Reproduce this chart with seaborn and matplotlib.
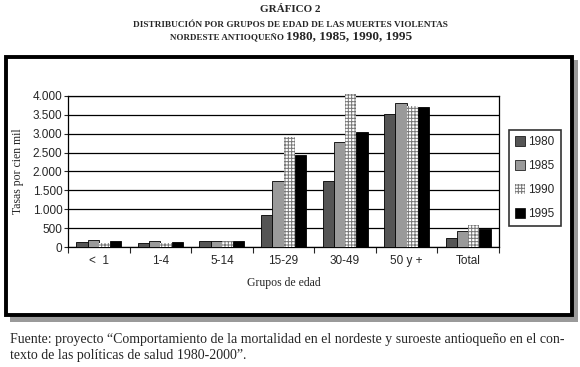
import pandas as pd
import seaborn as sns
import matplotlib.pyplot as plt
from matplotlib.patches import Rectangle, Patch

# values
groups = ['<  1', '1-4', '5-14', '15-29', '30-49', '50 y +', 'Total']
years = ['1980', '1985', '1990', '1995']
v1980 = [135, 95, 150, 860, 1750, 3515, 245]
v1985 = [195, 150, 170, 1740, 2790, 3805, 415]
v1990 = [105, 100, 150, 2915, 4060, 3735, 575]
v1995 = [150, 125, 150, 2430, 3050, 3720, 485]
yticks = [0, 500, 1000, 1500, 2000, 2500, 3000, 3500, 4000]
ytick_labels = ['0', '500', '1.000', '1.500', '2.000', '2.500', '3.000', '3.500', '4.000']

colors = {'1980': '#555555', '1985': '#9a9a9a', '1990': '#ffffff', '1995': '#000000'}
HATCH = '+++++'

rows = []
for yr, vals in zip(years, [v1980, v1985, v1990, v1995]):
    for g, v in zip(groups, vals):
        rows.append({'Grupo': g, 'Año': yr, 'Tasa': v})
df = pd.DataFrame(rows)

sns.set_style('white')
plt.rcParams['hatch.linewidth'] = 0.7
serif = ['Liberation Serif', 'DejaVu Serif']
sans = ['Liberation Sans', 'DejaVu Sans']

fig = plt.figure(figsize=(5.8, 3.67), dpi=100)

# frame with shadow
fig.patches.append(Rectangle((10 / 580, 1 - 322 / 367), 568 / 580, 262 / 367,
                             transform=fig.transFigure, facecolor='#9a9a9a',
                             edgecolor='none', zorder=0))
fig.patches.append(Rectangle((6 / 580, 1 - 315 / 367), 566 / 580, 258 / 367,
                             transform=fig.transFigure, facecolor='white',
                             edgecolor='black', linewidth=2.8, zorder=1))

ax = fig.add_axes([68 / 580, 1 - 247 / 367, 431 / 580, 151 / 367])
ax.set_zorder(2)
sns.barplot(data=df, x='Grupo', y='Tasa', hue='Año', palette=colors,
            width=0.73, gap=0, ax=ax, errorbar=None, legend=False,
            edgecolor='black', linewidth=0.6, saturation=1)

for bar in ax.containers[2]:
    bar.set_hatch(HATCH)
    bar.set_edgecolor('#777777')
    bar.set_linewidth(0)
for cont in ax.containers:
    for bar in cont:
        bar.set_clip_on(False)
        bar.set_zorder(3)

ax.set_ylim(0, 4000)
ax.set_xlim(-0.5, 6.5)
ax.set_yticks(yticks)
ax.set_yticklabels(ytick_labels, fontsize=8.5, family=sans)
ax.set_xticks(range(len(groups)))
ax.set_xticklabels(groups, fontsize=8.5, family=sans)
ax.set_xticks([i - 0.5 for i in range(len(groups) + 1)], minor=True)
ax.tick_params(axis='x', which='major', length=0, pad=6)
ax.tick_params(axis='x', which='minor', length=4, width=0.8, direction='out', bottom=True)
ax.tick_params(axis='y', length=3, width=0.8, direction='out', left=True, pad=1)
ax.yaxis.grid(True, color='black', linewidth=0.9)
ax.set_axisbelow(True)
for s in ax.spines.values():
    s.set_color('black')
    s.set_linewidth(0.9)
ax.set_xlabel('Grupos de edad', fontsize=8.5, family=serif, labelpad=7)
ax.set_ylabel('Tasas por cien mil', fontsize=8.5, family=serif, labelpad=6)

handles = [Patch(facecolor=colors[y], edgecolor='black' if y != '1990' else '#777777',
                 linewidth=0.5 if y != '1990' else 0, hatch=HATCH if y == '1990' else None)
           for y in years]
leg = fig.legend(handles, years, loc='center left',
                 bbox_to_anchor=(509 / 580, 1 - 178 / 367), frameon=True,
                 fancybox=False, edgecolor='black', handlelength=0.8,
                 handleheight=0.9, handletextpad=0.3, labelspacing=1.0,
                 borderpad=0.55, borderaxespad=0,
                 prop={'family': sans, 'size': 8.5})
leg.get_frame().set_linewidth(1.2)
leg.set_zorder(5)

fig.text(0.5, 1 - 10 / 367, 'GRÁFICO 2', ha='center', va='center',
         fontsize=8, fontweight='bold', family=serif)
fig.text(0.5, 1 - 25 / 367, 'DISTRIBUCIÓN POR GRUPOS DE EDAD DE LAS MUERTES VIOLENTAS',
         ha='center', va='center', fontsize=6.7, fontweight='bold', family=serif)
t3 = fig.text(170 / 580, 1 - 40 / 367, 'NORDESTE ANTIOQUEÑO ', ha='left', va='baseline',
              fontsize=6.5, fontweight='bold', family=serif)
fig.text(170 / 580, 1 - 40 / 367, '', fontsize=1)
ax.annotate('1980, 1985, 1990, 1995', xy=(1, 0), xycoords=t3, ha='left', va='bottom',
            fontsize=9.5, fontweight='bold', family=serif, annotation_clip=False)

fig.text(10 / 580, 1 - 340 / 367,
         'Fuente: proyecto \u201cComportamiento de la mortalidad en el nordeste y suroeste antioqueño en el con-',
         ha='left', va='center', fontsize=10, family=serif)
fig.text(10 / 580, 1 - 355 / 367,
         'texto de las políticas de salud 1980-2000\u201d.',
         ha='left', va='center', fontsize=10, family=serif)

plt.savefig('out.png', dpi=100)
